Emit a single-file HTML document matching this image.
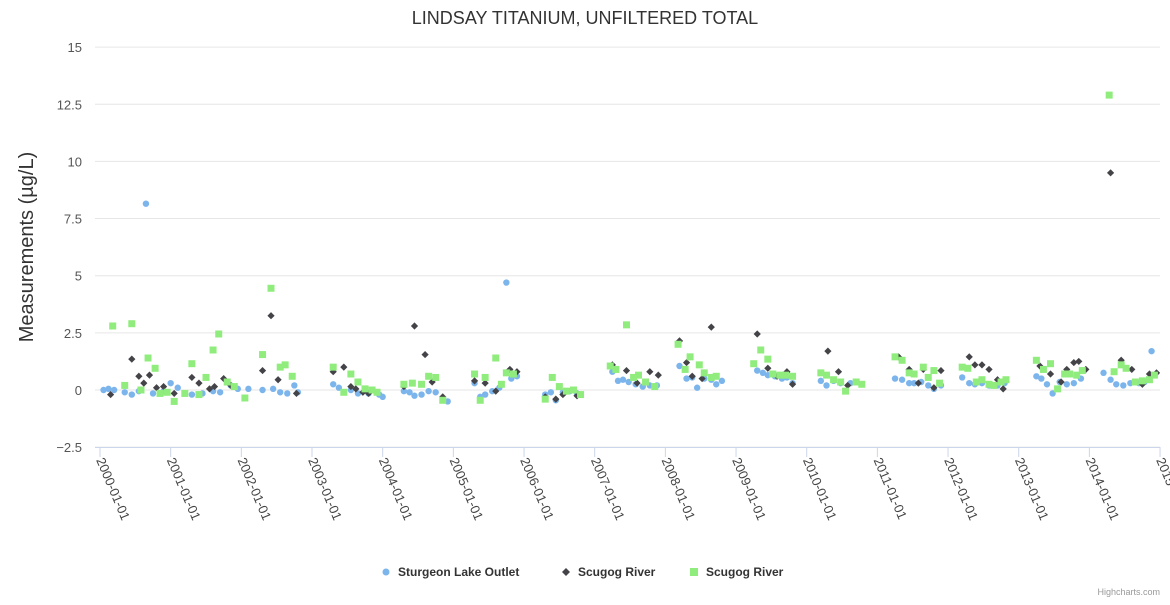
<!DOCTYPE html>
<html><head><meta charset="utf-8"><style>
body{margin:0;background:#fff;font-family:"Liberation Sans",sans-serif;}
svg text{font-family:"Liberation Sans",sans-serif;}
</style></head><body>
<svg id="chart" width="1170" height="600" xmlns="http://www.w3.org/2000/svg">
<text x="585" y="24" text-anchor="middle" font-size="18" fill="#333">LINDSAY TITANIUM, UNFILTERED TOTAL</text>
<text transform="translate(33,247) rotate(-90)" text-anchor="middle" font-size="20" fill="#333">Measurements (µg/L)</text>
<g id="grid"></g><g id="xaxis"></g><g id="marks"></g>
<g>
<g><circle cx="386" cy="572" r="3.5" fill="#7cb5ec"/><text x="398" y="576" font-size="12" font-weight="bold" fill="#333">Sturgeon Lake Outlet</text></g>
<g><path d="M566 568 L570 572 L566 576 L562 572Z" fill="#434348"/><text x="578" y="576" font-size="12" font-weight="bold" fill="#333">Scugog River</text></g>
<g><rect x="690" y="568" width="8" height="8" fill="#90ed7d"/><text x="706" y="576" font-size="12" font-weight="bold" fill="#333">Scugog River</text></g>
</g>
<text x="1160" y="595" text-anchor="end" font-size="9" fill="#999">Highcharts.com</text>
</svg>
<script>
const yTicks=[15,12.5,10,7.5,5,2.5,0,-2.5];
const yTickLabels=["15","12.5","10","7.5","5","2.5","0","−2.5"];
const xYears=[2000,2001,2002,2003,2004,2005,2006,2007,2008,2009,2010,2011,2012,2013,2014,2015];
const xTickLabels=["2000-01-01","2001-01-01","2002-01-01","2003-01-01","2004-01-01","2005-01-01","2006-01-01","2007-01-01","2008-01-01","2009-01-01","2010-01-01","2011-01-01","2012-01-01","2013-01-01","2014-01-01","2015-01-01"];
const sturgeonDates=[2000.05,2000.12,2000.2,2000.35,2000.45,2000.55,2000.65,2000.75,2000.9,2001.0,2001.1,2001.2,2001.3,2001.45,2001.6,2001.7,2001.85,2001.95,2002.1,2002.3,2002.45,2002.55,2002.65,2002.75,2002.8,2003.3,2003.38,2003.45,2003.55,2003.65,2003.8,2003.95,2004.0,2004.3,2004.38,2004.45,2004.55,2004.65,2004.75,2004.85,2004.92,2005.3,2005.38,2005.45,2005.55,2005.65,2005.75,2005.82,2005.9,2006.3,2006.38,2006.45,2006.55,2006.65,2006.75,2007.25,2007.33,2007.4,2007.48,2007.58,2007.68,2007.78,2007.88,2008.2,2008.3,2008.38,2008.45,2008.55,2008.65,2008.72,2008.8,2009.3,2009.38,2009.45,2009.55,2009.65,2009.72,2009.8,2010.2,2010.28,2010.38,2010.48,2010.62,2011.25,2011.35,2011.45,2011.52,2011.62,2011.72,2011.8,2011.9,2012.2,2012.3,2012.38,2012.48,2012.58,2012.7,2012.8,2013.25,2013.32,2013.4,2013.48,2013.58,2013.68,2013.78,2013.88,2014.2,2014.3,2014.38,2014.48,2014.58,2014.7,2014.78,2014.88];
const sturgeonValues=[0,0.05,0,-0.1,-0.2,-0.05,8.15,-0.15,-0.05,0.3,0.1,-0.15,-0.2,-0.15,-0.05,-0.1,0.2,0.05,0.05,0,0.05,-0.1,-0.15,0.2,-0.1,0.25,0.1,-0.1,0,-0.15,-0.15,-0.2,-0.3,-0.05,-0.1,-0.25,-0.2,-0.05,-0.1,-0.4,-0.5,0.3,-0.3,-0.2,-0.05,0.1,4.7,0.5,0.6,-0.2,-0.1,-0.45,-0.1,-0.05,-0.15,0.8,0.4,0.45,0.35,0.25,0.15,0.2,0.2,1.05,0.5,0.55,0.1,0.5,0.45,0.25,0.4,0.85,0.75,0.65,0.6,0.5,0.55,0.3,0.4,0.2,0.4,0.3,0.3,0.5,0.45,0.3,0.3,0.35,0.2,0.05,0.2,0.55,0.3,0.25,0.3,0.2,0.2,0.3,0.6,0.5,0.25,-0.15,0.35,0.25,0.3,0.5,0.75,0.45,0.25,0.2,0.3,0.3,0.35,1.7];
const scugogBlackDates=[2000.15,2000.45,2000.55,2000.62,2000.7,2000.8,2000.9,2001.05,2001.3,2001.4,2001.55,2001.62,2001.75,2001.85,2002.3,2002.42,2002.52,2002.78,2003.3,2003.45,2003.55,2003.62,2003.72,2003.8,2004.3,2004.45,2004.6,2004.7,2004.85,2005.3,2005.45,2005.6,2005.8,2005.9,2006.3,2006.45,2006.55,2006.75,2007.25,2007.45,2007.6,2007.78,2007.9,2008.2,2008.3,2008.38,2008.52,2008.65,2009.3,2009.45,2009.58,2009.72,2009.8,2010.3,2010.45,2010.58,2011.3,2011.45,2011.58,2011.65,2011.8,2011.9,2012.3,2012.38,2012.48,2012.58,2012.7,2012.78,2013.3,2013.45,2013.6,2013.68,2013.78,2013.85,2013.95,2014.3,2014.45,2014.6,2014.75,2014.85,2014.95];
const scugogBlackValues=[-0.2,1.35,0.6,0.3,0.65,0.1,0.15,-0.15,0.55,0.3,0.05,0.15,0.5,0.2,0.85,3.25,0.45,-0.15,0.8,1.0,0.15,0.05,-0.1,-0.15,0.15,2.8,1.55,0.35,-0.3,0.4,0.3,-0.05,0.9,0.8,-0.3,-0.4,-0.2,-0.25,1.1,0.85,0.3,0.8,0.65,2.15,1.2,0.6,0.5,2.75,2.45,0.95,0.6,0.8,0.25,1.7,0.8,0.2,1.45,0.9,0.3,0.9,0.1,0.85,1.45,1.1,1.1,0.9,0.45,0.05,1.05,0.7,0.35,0.9,1.2,1.25,0.9,9.5,1.3,0.9,0.25,0.7,0.75];
const scugogGreenDates=[2000.18,2000.35,2000.45,2000.58,2000.68,2000.78,2000.85,2000.95,2001.05,2001.2,2001.3,2001.4,2001.5,2001.6,2001.68,2001.8,2001.9,2002.05,2002.3,2002.42,2002.55,2002.62,2002.72,2003.3,2003.45,2003.55,2003.65,2003.75,2003.85,2003.92,2004.3,2004.42,2004.55,2004.65,2004.75,2004.85,2005.3,2005.38,2005.45,2005.6,2005.68,2005.75,2005.85,2006.3,2006.4,2006.5,2006.6,2006.7,2006.8,2007.22,2007.3,2007.45,2007.55,2007.62,2007.72,2007.85,2008.18,2008.28,2008.35,2008.48,2008.55,2008.65,2008.72,2009.25,2009.35,2009.45,2009.52,2009.62,2009.7,2009.8,2010.2,2010.28,2010.38,2010.48,2010.55,2010.7,2010.78,2011.25,2011.35,2011.45,2011.52,2011.65,2011.72,2011.8,2011.88,2012.2,2012.28,2012.4,2012.48,2012.58,2012.65,2012.75,2012.82,2013.25,2013.35,2013.45,2013.55,2013.65,2013.72,2013.82,2013.9,2014.28,2014.35,2014.45,2014.52,2014.65,2014.75,2014.85,2014.92];
const scugogGreenValues=[2.8,0.2,2.9,0,1.4,0.95,-0.15,-0.1,-0.5,-0.15,1.15,-0.2,0.55,1.75,2.45,0.35,0.15,-0.35,1.55,4.45,1.0,1.1,0.6,1.0,-0.1,0.7,0.35,0.05,0,-0.1,0.25,0.3,0.25,0.6,0.55,-0.45,0.7,-0.45,0.55,1.4,0.25,0.75,0.7,-0.4,0.55,0.15,-0.05,0,-0.2,1.05,0.9,2.85,0.55,0.65,0.35,0.15,2.0,0.9,1.45,1.1,0.75,0.55,0.6,1.15,1.75,1.35,0.7,0.65,0.65,0.6,0.75,0.65,0.45,0.35,-0.05,0.35,0.25,1.45,1.3,0.75,0.7,1.0,0.55,0.85,0.3,1.0,0.95,0.35,0.45,0.25,0.2,0.35,0.45,1.3,0.9,1.15,0.05,0.7,0.7,0.65,0.85,12.9,0.8,1.1,0.95,0.35,0.4,0.45,0.65];

const NS="http://www.w3.org/2000/svg";
const X0=100,XPY=70.67,Y0=390,PPU=22.86;
function xs(d){return X0+(d-2000)*XPY;}
function ys(v){return Y0-v*PPU;}
function mk(tag,attrs,parent){const e=document.createElementNS(NS,tag);for(const k in attrs)e.setAttribute(k,attrs[k]);parent.appendChild(e);return e;}
const grid=document.getElementById('grid');
yTicks.forEach((v,i)=>{
  const l=mk('line',{x1:95,x2:1160,y1:ys(v),y2:ys(v),stroke:'#e6e6e6','stroke-width':1},grid);
  
  
  const t=mk('text',{x:82,y:ys(v)+5,'text-anchor':'end','font-size':13,fill:'#555'},grid);
  t.textContent=yTickLabels[i];
  
  
});
const xa=document.getElementById('xaxis');
const al=mk('line',{x1:95,x2:1160,y1:447.5,y2:447.5,stroke:'#ccd6eb'},xa);


xYears.forEach((yr,i)=>{
  const x=xs(yr);
  const tk=mk('line',{x1:x,x2:x,y1:447,y2:457,stroke:'#ccd6eb'},xa);
  
  
  const t=mk('text',{x:0,y:0,'font-size':13,fill:'#444',transform:`translate(${x-4},${460}) rotate(67)`},xa);
  t.textContent=xTickLabels[i];
  
  
});
const m=document.getElementById('marks');
sturgeonDates.forEach((d,i)=>{
  const c=mk('circle',{cx:xs(d),cy:ys(sturgeonValues[i]),r:3.2,fill:'#7cb5ec'},m);
  
  
});
scugogBlackDates.forEach((d,i)=>{
  const x=xs(d),y=ys(scugogBlackValues[i]);
  const p=mk('path',{d:`M${x} ${y-3.6}L${x+3.6} ${y}L${x} ${y+3.6}L${x-3.6} ${y}Z`,fill:'#434348'},m);
  
  
});
scugogGreenDates.forEach((d,i)=>{
  const r=mk('rect',{x:xs(d)-3.5,y:ys(scugogGreenValues[i])-3.5,width:7,height:7,fill:'#90ed7d'},m);
  
  
});
</script>
</body></html>
